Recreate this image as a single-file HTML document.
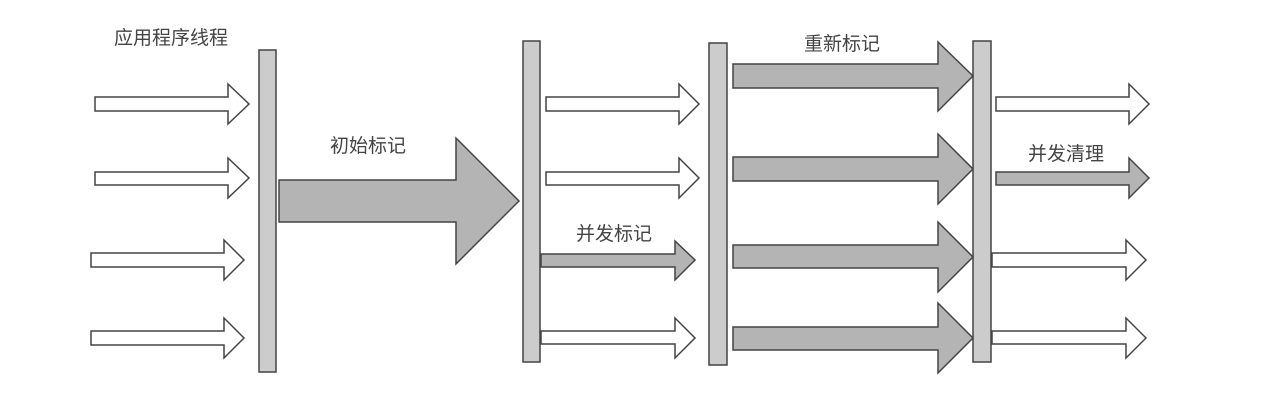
<!DOCTYPE html>
<html><head><meta charset="utf-8"><style>
html,body{margin:0;padding:0;background:#fff;}
svg{display:block}
text{font-family:"Liberation Sans","Noto Sans CJK SC",sans-serif;font-size:19px;fill:#444;}
</style></head><body>
<svg width="1264" height="406" viewBox="0 0 1264 406" xmlns="http://www.w3.org/2000/svg">
<g stroke="#444" stroke-width="1.5" stroke-linejoin="miter">
<rect x="259" y="50" width="17" height="322" fill="#cccccc"/>
<rect x="523" y="41" width="17" height="321" fill="#cccccc"/>
<rect x="709" y="43" width="18" height="322" fill="#cccccc"/>
<rect x="973" y="41" width="18" height="321" fill="#cccccc"/>

<polygon fill="#fff" points="95,97 228,97 228,84 249,104 228,124 228,111 95,111"/>
<polygon fill="#fff" points="95,172 228,172 228,158 249,178 228,198 228,185 95,185"/>
<polygon fill="#fff" points="91,253 224,253 224,240 244,260 224,280 224,267 91,267"/>
<polygon fill="#fff" points="91,331 224,331 224,318 244,338 224,358 224,345 91,345"/>

<polygon fill="#b4b4b4" points="279,180 456,180 456,138 519,201 456,264 456,222 279,222"/>

<polygon fill="#fff" points="546,97 679,97 679,84 699,104 679,124 679,111 546,111"/>
<polygon fill="#fff" points="546,172 679,172 679,158 699,178 679,198 679,185 546,185"/>
<polygon fill="#b4b4b4" points="541,254 675,254 675,241 695,260 675,280 675,267 541,267"/>
<polygon fill="#fff" points="541,331 675,331 675,318 695,338 675,358 675,344 541,344"/>

<polygon fill="#b4b4b4" points="733,64 938,64 938,42 973,76 938,111 938,88 733,88"/>
<polygon fill="#b4b4b4" points="733,157 938,157 938,134 973,169 938,204 938,181 733,181"/>
<polygon fill="#b4b4b4" points="733,245 938,245 938,222 973,257 938,292 938,268 733,268"/>
<polygon fill="#b4b4b4" points="733,327 938,327 938,303 973,338 938,373 938,350 733,350"/>

<polygon fill="#fff" points="996,97 1129,97 1129,84 1149,104 1129,124 1129,111 996,111"/>
<polygon fill="#b4b4b4" points="996,172 1129,172 1129,158 1149,178 1129,198 1129,185 996,185"/>
<polygon fill="#fff" points="992,253 1126,253 1126,240 1146,260 1126,280 1126,267 992,267"/>
<polygon fill="#fff" points="992,331 1126,331 1126,318 1146,338 1126,358 1126,344 992,344"/>
</g>
<text x="114" y="44">应用程序线程</text>
<text x="330" y="152">初始标记</text>
<text x="576" y="240">并发标记</text>
<text x="804" y="50">重新标记</text>
<text x="1028" y="160">并发清理</text>
</svg>
</body></html>
